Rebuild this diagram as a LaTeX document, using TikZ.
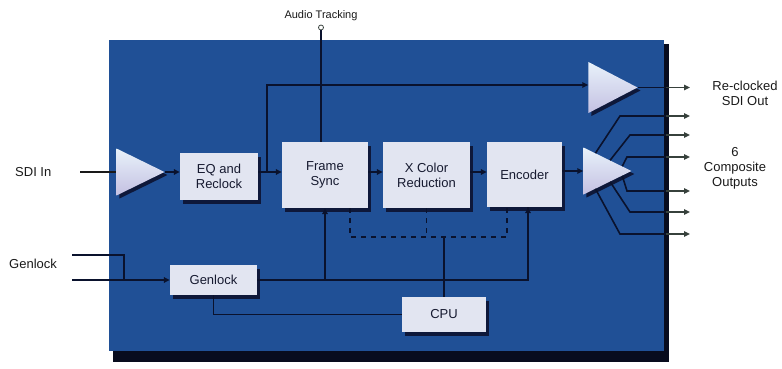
\documentclass[tikz,border=0pt]{standalone}
\usepackage{fontspec}
\setmainfont{Liberation Sans}
\usetikzlibrary{arrows.meta,shapes.geometric,shadows,calc}
\definecolor{board}{RGB}{32,80,150}
\definecolor{boardshadow}{RGB}{8,12,30}
\definecolor{boxfill}{RGB}{226,229,241}
\definecolor{boxshadow}{RGB}{14,24,58}
\definecolor{boxtext}{RGB}{22,26,48}
\definecolor{wirecol}{RGB}{10,18,45}
\definecolor{outcol}{RGB}{55,65,60}
\definecolor{lbltext}{RGB}{25,25,25}
\definecolor{amptop}{RGB}{232,242,250}
\definecolor{ampbot}{RGB}{196,192,226}
\begin{document}
\begin{tikzpicture}[x=1pt,y=-1pt,
  blockbox/.style={fill=boxfill, font=\fontsize{13}{15}\selectfont, text=boxtext,
    align=center, inner sep=0pt,
    drop shadow={shadow xshift=3pt, shadow yshift=-4pt, fill=boxshadow, opacity=1}},
  amp/.style={isosceles triangle, isosceles triangle stretches, inner sep=0pt, anchor=apex,
    top color=amptop, bottom color=ampbot,
    drop shadow={shadow xshift=3pt, shadow yshift=-3pt, fill=boxshadow, opacity=1}},
  wire/.style={draw=wirecol, line width=1.6pt},
  arr/.style={wire, -{Triangle[length=6pt,width=5.5pt]}},
  outarr/.style={draw=outcol, line width=1.4pt, -{Triangle[length=6pt,width=5.5pt]}},
  lbl/.style={font=\fontsize{13}{15}\selectfont, text=lbltext, align=center, inner sep=0pt},
  dashwire/.style={wire, dash pattern=on 5pt off 5pt}
]
\useasboundingbox (0,0) rectangle (782,369);
% board
\fill[boardshadow] (113,44) rectangle (669,362);
\fill[board] (109,40) rectangle (664,351);

% blocks
\node[blockbox, minimum width=78, minimum height=47] (eq) at (219,176.5) {EQ and\\Reclock};
\node[blockbox, minimum width=86, minimum height=66] (fs) at (325,175) {Frame\\Sync};
\node[blockbox, minimum width=87, minimum height=66] (xc) at (426.5,175) {X Color\\Reduction};
\node[blockbox, minimum width=75, minimum height=65] (enc) at (524.5,174.5) {Encoder};
\node[blockbox, minimum width=87, minimum height=30] (gen) at (213.5,280) {Genlock};
\node[blockbox, minimum width=84, minimum height=35] (cpu) at (444,314.5) {CPU};

% amplifiers
\node[amp, minimum width=47, minimum height=48] (tin) at (165,172) {};
\node[amp, minimum width=51, minimum height=49] (tre) at (638,87.5) {};
\node[amp, minimum width=47, minimum height=48] (tco) at (632,171) {};

% labels
\node[lbl, anchor=west] (sdilbl) at (15,172) {SDI In};
\node[lbl, anchor=west] (genlbl) at (9,264) {Genlock};
\node[lbl] (relbl) at (745,93) {Re-clocked\\SDI Out};
\node[lbl] (colbl) at (735,168) {6\\Composite\\Outputs};
\node[lbl, font=\fontsize{11}{13}\selectfont] (audlbl) at (321,16) {Audio Tracking};
\node[circle, draw=outcol, fill=white, line width=0.8pt, inner sep=0pt, minimum size=5pt] (atc) at (321,27.5) {};

% coordinates
\coordinate (sdiA) at (80,172);
\coordinate (br) at (267,172);
\coordinate (reedge) at (666,87.5);
\coordinate (reout) at (690,87.5);
\coordinate (g1) at (72,255);
\coordinate (g2) at (72,280);
\coordinate (gj) at (124,255);
\coordinate (dl) at (0,237);
\foreach \i/\y in {1/116,2/135,3/157,4/191,5/212,6/234}{
  \coordinate (e\i) at (666,\y);
  \coordinate (o\i) at (690,\y);
}

% signal path
\draw[draw=lbltext, line width=1.3pt] (sdiA) -- (tin.lower side);
\draw[arr] (tin.apex) -- (eq.west |- tin.apex);
\draw[arr] (eq.east |- tin.apex) -- (fs.west |- tin.apex);
\draw[arr] (br) |- ($(tre.lower side)+(0,-2.5)$);
\draw[wire] (tre.apex) -- (reedge);
\draw[outarr] (reedge) -- (reout);
\draw[arr] (fs.east |- tin.apex) -- (xc.west |- tin.apex);
\draw[arr] (xc.east |- tin.apex) -- (enc.west |- tin.apex);
\draw[arr] (enc.east |- tco.apex) -- (tco.lower side);

% composite outputs
\draw[wire] ($(tco.apex)!0.75!(tco.left corner)$) -- (620,116) -- (e1);
\draw[wire] ($(tco.apex)!0.45!(tco.left corner)$) -- (630,135) -- (e2);
\draw[wire] ($(tco.apex)!0.2!(tco.left corner)$) -- (627,157) -- (e3);
\draw[wire] ($(tco.apex)!0.2!(tco.right corner)$) -- (627,191) -- (e4);
\draw[wire] ($(tco.apex)!0.45!(tco.right corner)$) -- (630,212) -- (e5);
\draw[wire] ($(tco.apex)!0.75!(tco.right corner)$) -- (620,234) -- (e6);
\foreach \i in {1,...,6}{ \draw[outarr] (e\i) -- (o\i); }

% genlock
\draw[wire] (g1) -- (gj) |- (g2);
\draw[arr] (g2) -- (gen.west);
\draw[wire] (gen.east) -| ($(enc.south)+(3.5,0)$);
\draw[arr] ($(enc.south)+(3.5,72)$) -- ($(enc.south)+(3.5,0)$);
\draw[arr] (fs.south |- gen.east) -- (fs.south);
\draw[wire] (gen.south) |- (cpu.west);
\draw[wire] (cpu.north) -- (cpu.north |- dl);

% control bus (dashed)
\draw[dashwire] ($(fs.south east)+(-18,0)$) |- ($(enc.south west)+(20,0)+(0,30)$) -- ($(enc.south west)+(20,0)$);
\draw[dashwire] (xc.south) -- (xc.south |- dl);

% audio tracking
\draw[draw=wirecol, line width=1.2pt] (atc) -- (atc |- fs.north);
\end{tikzpicture}
\end{document}
